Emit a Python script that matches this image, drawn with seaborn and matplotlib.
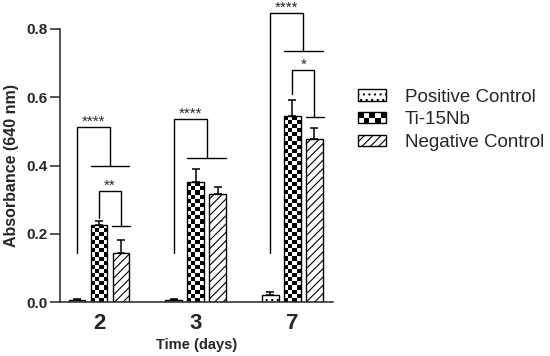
import numpy as np
import pandas as pd
import matplotlib
matplotlib.use('Agg')
import matplotlib.pyplot as plt
import seaborn as sns
from matplotlib.patches import Patch, Rectangle
from matplotlib.legend_handler import HandlerBase

# data
days = ['2', '3', '7']
groups = ['Positive Control', 'Ti-15Nb', 'Negative Control']
pos_ctrl = [0.005, 0.005, 0.020]
ti15nb = [0.225, 0.351, 0.546]
neg_ctrl = [0.143, 0.316, 0.477]
pos_err = [0.003, 0.003, 0.010]
ti_err = [0.013, 0.039, 0.046]
neg_err = [0.039, 0.022, 0.034]

# significance brackets: positive control vs (Ti-15Nb + negative control)
ctrl_low = [0.143, 0.143, 0.143]
ctrl_top = [0.512, 0.535, 0.847]
ctrl_drop = [0.400, 0.421, 0.736]
ctrl_labels = ['****', '****', '****']
# Ti-15Nb vs negative control
pair_days = [0, 2]
pair_low = [0.245, 0.609]
pair_top = [0.325, 0.680]
pair_drop = [0.222, 0.543]
pair_labels = ['**', '*']

df = pd.DataFrame({
    'day': days * 3,
    'group': np.repeat(groups, 3),
    'value': pos_ctrl + ti15nb + neg_ctrl,
})
errs = [pos_err, ti_err, neg_err]

sns.set_style('ticks')
plt.rcParams['font.family'] = ['Liberation Sans', 'DejaVu Sans']
plt.rcParams['hatch.linewidth'] = 0.8

fig = plt.figure(figsize=(5.5, 3.56), dpi=100)
ax = fig.add_axes([60 / 550, 54 / 356, 273 / 550, 273 / 356])

sns.barplot(data=df, x='day', y='value', hue='group', order=days, hue_order=groups,
            palette=['white'] * 3, edgecolor='black', linewidth=1.0,
            errorbar=None, width=0.682, gap=0.25, legend=False, ax=ax, zorder=2)

ax.set_xlim(-0.403, 2.419)
ax.set_ylim(0, 0.8)

hatches = ['...', None, '////']
for cont, hatch in zip(ax.containers, hatches):
    for bar in cont:
        if hatch:
            bar.set_hatch(hatch)

# checkerboard fill for Ti-15Nb bars
px_per_x = ax.transData.transform((1, 0))[0] - ax.transData.transform((0, 0))[0]
px_per_y = ax.transData.transform((0, 1))[1] - ax.transData.transform((0, 0))[1]
for bar in ax.containers[1]:
    x0, w, h = bar.get_x(), bar.get_width(), bar.get_height()
    ncol = 4
    cell_px = w * px_per_x / ncol
    cell_h = cell_px / px_per_y
    nrow = int(np.ceil(h / cell_h))
    board = np.add.outer(np.arange(nrow), np.arange(ncol)) % 2
    im = ax.imshow(board, cmap='gray', extent=(x0, x0 + w, 0, nrow * cell_h),
                   origin='lower', interpolation='nearest', aspect='auto', zorder=1.5)
    im.set_clip_path(bar)
    bar.set_facecolor('none')

ax.set_xlim(-0.403, 2.419)
ax.set_ylim(0, 0.8)

# one-sided error bars
for cont, e in zip(ax.containers, errs):
    xs = [b.get_x() + b.get_width() / 2 for b in cont]
    ys = [b.get_height() for b in cont]
    ax.errorbar(xs, ys, yerr=[np.zeros(len(e)), e], fmt='none', ecolor='black',
                elinewidth=1.1, capsize=2.6, capthick=1.1, zorder=3)

def centers(i):
    return [ax.containers[k][i].get_x() + ax.containers[k][i].get_width() / 2 for k in range(3)]

lw = 1.0
star_kw = dict(ha='center', va='baseline', fontsize=11, clip_on=False)
for i in range(3):
    cp, ct, cn = centers(i)
    xm = (ct + cn) / 2
    tl = ax.containers[1][i].get_x()
    nr = ax.containers[2][i].get_x() + ax.containers[2][i].get_width()
    ax.plot([cp, cp, xm, xm], [ctrl_low[i], ctrl_top[i], ctrl_top[i], ctrl_drop[i]],
            color='black', lw=lw, clip_on=False, solid_joinstyle='miter')
    ax.plot([tl, nr], [ctrl_drop[i], ctrl_drop[i]], color='black', lw=lw, clip_on=False)
    ax.text((cp + xm) / 2, ctrl_top[i] + 0.004, ctrl_labels[i], **star_kw)

for j, i in enumerate(pair_days):
    cp, ct, cn = centers(i)
    nb = ax.containers[2][i]
    ax.plot([ct, ct, cn, cn], [pair_low[j], pair_top[j], pair_top[j], pair_drop[j]],
            color='black', lw=lw, clip_on=False, solid_joinstyle='miter')
    ax.plot([nb.get_x() - 0.005, nb.get_x() + nb.get_width() + 0.01], [pair_drop[j], pair_drop[j]],
            color='black', lw=lw, clip_on=False)
    ax.text((ct + cn) / 2, pair_top[j] + 0.004, pair_labels[j], **star_kw)

sns.despine(ax=ax)
for sp in ['left', 'bottom']:
    ax.spines[sp].set_linewidth(1.1)
ax.set_yticks([0.0, 0.2, 0.4, 0.6, 0.8])
ax.set_yticklabels(['0.0', '0.2', '0.4', '0.6', '0.8'], fontweight='bold', fontsize=11)
ax.tick_params(axis='y', length=7.5, width=1.1, pad=1.5)
ax.tick_params(axis='x', length=0, pad=8, labelsize=16)
for t in ax.get_xticklabels():
    t.set_fontweight('bold')
ax.set_xlabel('Time (days)', fontweight='bold', fontsize=10.5, labelpad=3)
ax.set_ylabel('Absorbance (640 nm)', fontweight='bold', fontsize=11.5, labelpad=5)


class CheckerHandler(HandlerBase):
    def create_artists(self, legend, orig_handle, xdescent, ydescent, width, height, fontsize, trans):
        arts = []
        nc, nr = 5, 2
        cw, ch = width / nc, height / nr
        for r in range(nr):
            for c in range(nc):
                if (r + c) % 2 == 1:
                    arts.append(Rectangle((-xdescent + c * cw, -ydescent + r * ch), cw, ch,
                                          facecolor='black', edgecolor='none', transform=trans))
        arts.append(Rectangle((-xdescent, -ydescent), width, height, facecolor='none',
                              edgecolor='black', lw=1.0, transform=trans))
        return arts


h_pos = Patch(facecolor='white', edgecolor='black', hatch='...', lw=1.0)
h_ti = Patch(facecolor='white', edgecolor='black', lw=1.0)
h_neg = Patch(facecolor='white', edgecolor='black', hatch='////', lw=1.0)
fig.legend([h_pos, h_ti, h_neg], groups, loc='upper left', bbox_to_anchor=(0.651, 0.751),
           frameon=False, fontsize=13.5, handlelength=1.5, handleheight=0.55,
           handletextpad=1.0, labelspacing=0.3, borderpad=0, borderaxespad=0,
           handler_map={h_ti: CheckerHandler()})

fig.savefig('out.png', dpi=100)
